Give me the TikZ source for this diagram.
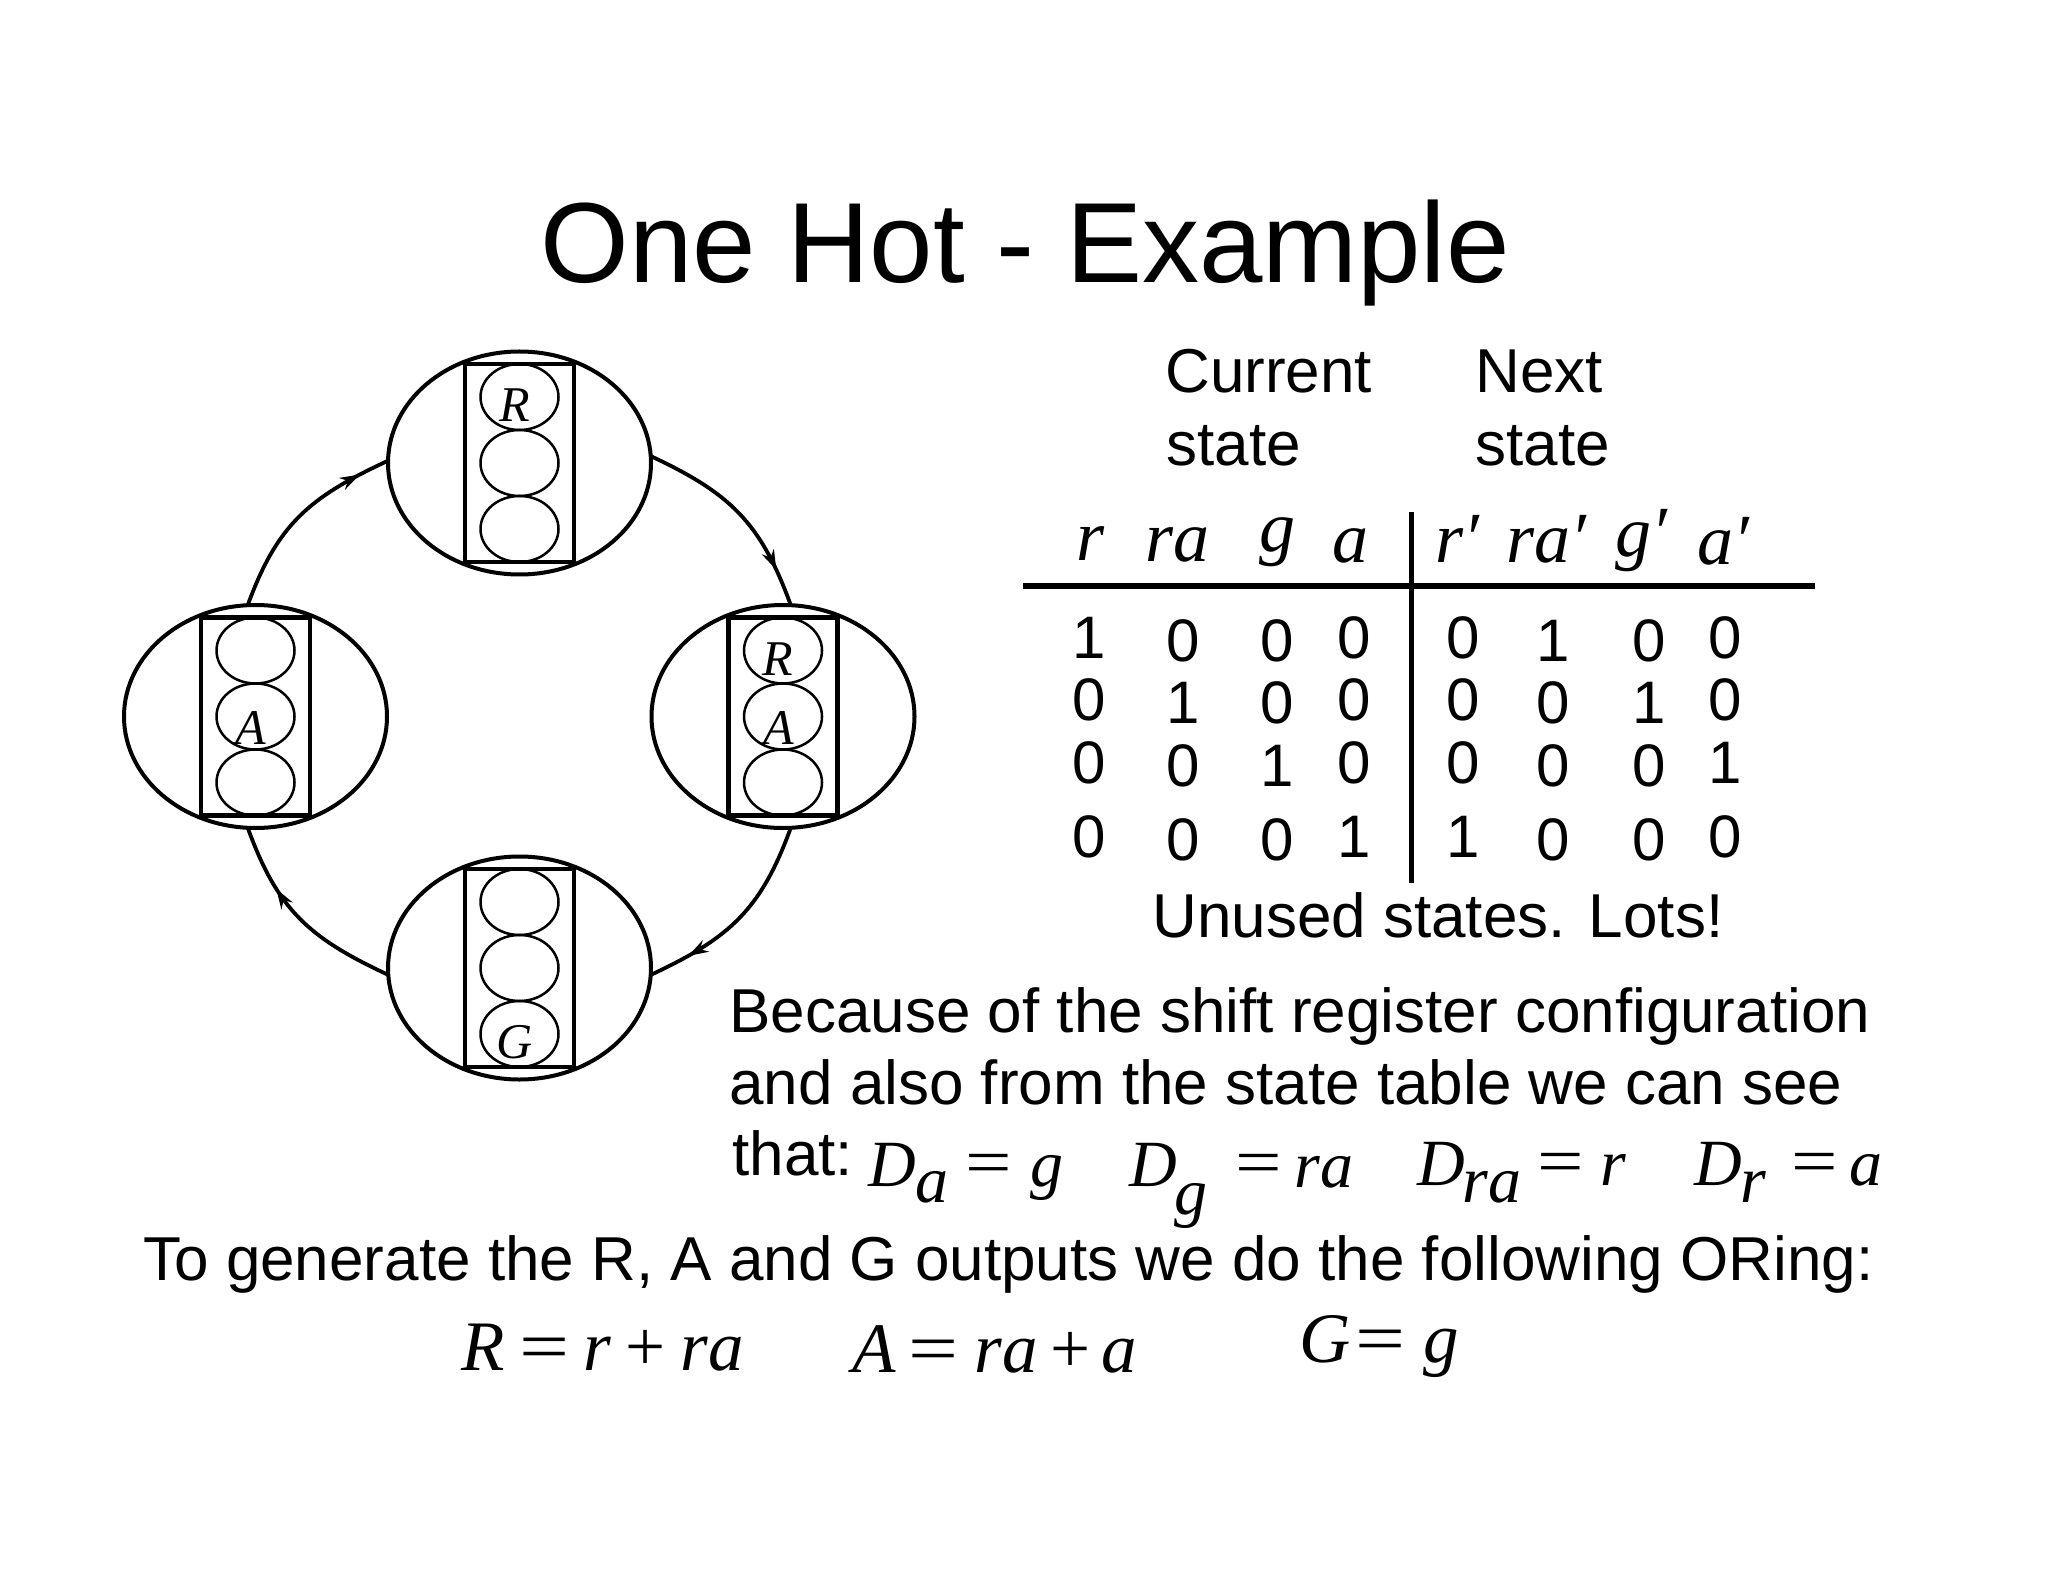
\documentclass[tikz,border=0pt]{standalone}
\usepackage{fontspec}
\setmainfont{Liberation Sans}
\newfontfamily\tms{Liberation Serif}
\usetikzlibrary{shapes.geometric,arrows.meta,decorations.markings}
\tikzset{
  stateell/.style={ellipse, draw, line width=2pt, minimum width=131.5pt, minimum height=111.5pt, inner sep=0pt, outer sep=0pt},
  housing/.style={line width=2.2pt},
  lamp/.style={line width=1.25pt},
  conn/.style={line width=1.9pt, looseness=1.1, postaction={decorate},
    decoration={markings, mark=at position #1 with {\arrow{Stealth[length=10pt,width=6.5pt]}}}},
  conn/.default=0.8,
  lampchar/.style={font=\fontsize{25}{30}\selectfont\tms\itshape, anchor=base, inner sep=0pt},
  titletext/.style={font=\fontsize{57}{68}\selectfont, anchor=base west, inner sep=0pt},
  bodytext/.style={font=\fontsize{31}{37}\selectfont, anchor=base west, inner sep=0pt},
  digit/.style={font=\fontsize{30}{36}\selectfont, anchor=base, inner sep=0pt},
  hdr/.style={font=\fontsize{36}{42}\selectfont\tms\itshape, anchor=base, inner sep=0pt},
  eq/.style={font=\fontsize{33}{40}\selectfont\tms\itshape, anchor=base, inner sep=0pt},
  equp/.style={font=\fontsize{33}{40}\selectfont\tms, anchor=base, inner sep=0pt},
  eqb/.style={font=\fontsize{35.5}{42}\selectfont\tms\itshape, anchor=base, inner sep=0pt},
  eqbup/.style={font=\fontsize{35.5}{42}\selectfont\tms, anchor=base, inner sep=0pt},
  tableline/.style={line width=2.5pt},
}
\newcommand{\drawlight}[1]{%
  \draw[housing] ([shift={(-54.5,-99)}]#1.center) rectangle ([shift={(54.5,99)}]#1.center);
  \foreach \dy in {66,0,-66}{\draw[lamp] ([shift={(0,\dy)}]#1.center) ellipse [x radius=19.5pt, y radius=16.5pt];}
}
\newcommand{\eqsign}{\scalebox{1.25}[1]{=}}
\begin{document}
\begin{tikzpicture}[x=0.5pt,y=0.5pt]
\useasboundingbox[fill=white] (0,0) rectangle (2048,-1582);

% title
\node[titletext] (title) at (540,-283) {One Hot - Example};

% state diagram
\node[stateell] (top) at (519.5,-463) {};
\node[stateell] (left) at (255.5,-716.5) {};
\node[stateell] (right) at (783,-716.5) {};
\node[stateell] (bottom) at (519.5,-968) {};
\drawlight{top}
\drawlight{left}
\drawlight{right}
\drawlight{bottom}
\node[lampchar] (lR1) at (514.5,-422) {R};
\node[lampchar] (lA1) at (251,-744) {A};
\node[lampchar] (lR2) at (778,-675.5) {R};
\node[lampchar] (lA2) at (778.5,-744) {A};
\node[lampchar] (lG1) at (515,-1058) {G};

\draw[conn=0.82] (top.3) to[out=-25,in=110] (right.86);
\draw[conn=0.8] (right.274) to[out=250,in=25] (bottom.357);
\draw[conn=0.68] (bottom.183) to[out=155,in=290] (left.266);
\draw[conn=0.85] (left.94) to[out=70,in=205] (top.179);

% table headings
\node[bodytext] (cur1) at (1165,-393) {Current};
\node[bodytext] (cur2) at (1166,-466) {state};
\node[bodytext] (nxt1) at (1475,-393) {Next};
\node[bodytext] (nxt2) at (1475,-466) {state};

\node[hdr] (h1) at (1090,-560) {r};
\node[hdr] (h2) at (1177,-561) {ra};
\node[hdr] (h3) at (1277,-552) {g};
\node[hdr] (h4) at (1350,-562) {a};
\node[hdr] (h5) at (1457,-563) {r′};
\node[hdr] (h6) at (1546,-563) {ra′};
\node[hdr] (h7) at (1641,-557) {g′};
\node[hdr] (h8) at (1723,-565) {a′};

\draw[tableline] (1023,-586) -- (1815,-586);
\draw[tableline] (1411,-512) -- (1411,-883);

\foreach \r/\yb/\vals in {1/658/{1,0,0,0,0,1,0,0},2/720/{0,1,0,0,0,0,1,0},3/783/{0,0,1,0,0,0,0,1},4/857/{0,0,0,1,1,0,0,0}}{
  \foreach \v [count=\c] in \vals {
    \pgfmathsetmacro\cx{{1089,1183,1277,1354,1463,1553,1649,1725}[\c-1]}
    \pgfmathsetmacro\dd{{0,3.5,3.5,0,0,3.5,3.5,0}[\c-1]}
    \node[digit] (d\r\c) at (\cx,-\yb-\dd) {\v};
  }
}

\node[bodytext] (unused) at (1152,-937) {Unused states. Lots!};

% explanation
\node[bodytext] (b1) at (729,-1032) {Because of the shift register configuration};
\node[bodytext] (b2) at (729,-1104) {and also from the state table we can see};
\node[bodytext] (b3) at (732,-1175) {that:};

\node[eq] (e1) at (892,-1186) {D};
\node[eq] (e1s) at (932,-1202) {a};
\node[equp] (e1q) at (989,-1184) {\eqsign};
\node[eq] (e1r) at (1047,-1186) {g};

\node[eq] (e2) at (1153,-1186) {D};
\node[eq] (e2s) at (1191,-1214) {g};
\node[equp] (e2q) at (1259,-1184) {\eqsign};
\node[eq] (e2r) at (1324,-1187) {ra};

\node[eq] (e3) at (1441,-1185) {D};
\node[eq] (e3s) at (1492,-1202) {ra};
\node[equp] (e3q) at (1561,-1183) {\eqsign};
\node[eq] (e3r) at (1613,-1185) {r};

\node[eq] (e4) at (1718,-1185) {D};
\node[eq] (e4s) at (1753,-1202) {r};
\node[equp] (e4q) at (1815,-1183) {\eqsign};
\node[eq] (e4r) at (1866,-1185) {a};

\node[bodytext] (togen) at (143,-1280) {To generate the R, A and G outputs we do the following ORing:};

% output equations
\node[eqb] (o1) at (483,-1370) {R};
\node[eqbup] (o1q) at (545,-1370) {\eqsign};
\node[eqb] (o1a) at (597,-1370) {r};
\node[eqbup] (o1p) at (646,-1370) {+};
\node[eqb] (o1b) at (712,-1370) {ra};

\node[eqb] (o2) at (874,-1372) {A};
\node[eqbup] (o2q) at (934,-1372) {\eqsign};
\node[eqb] (o2a) at (1006,-1372) {ra};
\node[eqbup] (o2p) at (1071,-1372) {+};
\node[eqb] (o2b) at (1119,-1372) {a};

\node[eqb] (o3) at (1325,-1362) {G};
\node[eqbup] (o3q) at (1381,-1362) {\eqsign};
\node[eqb] (o3a) at (1441,-1362) {g};
\end{tikzpicture}
\end{document}
